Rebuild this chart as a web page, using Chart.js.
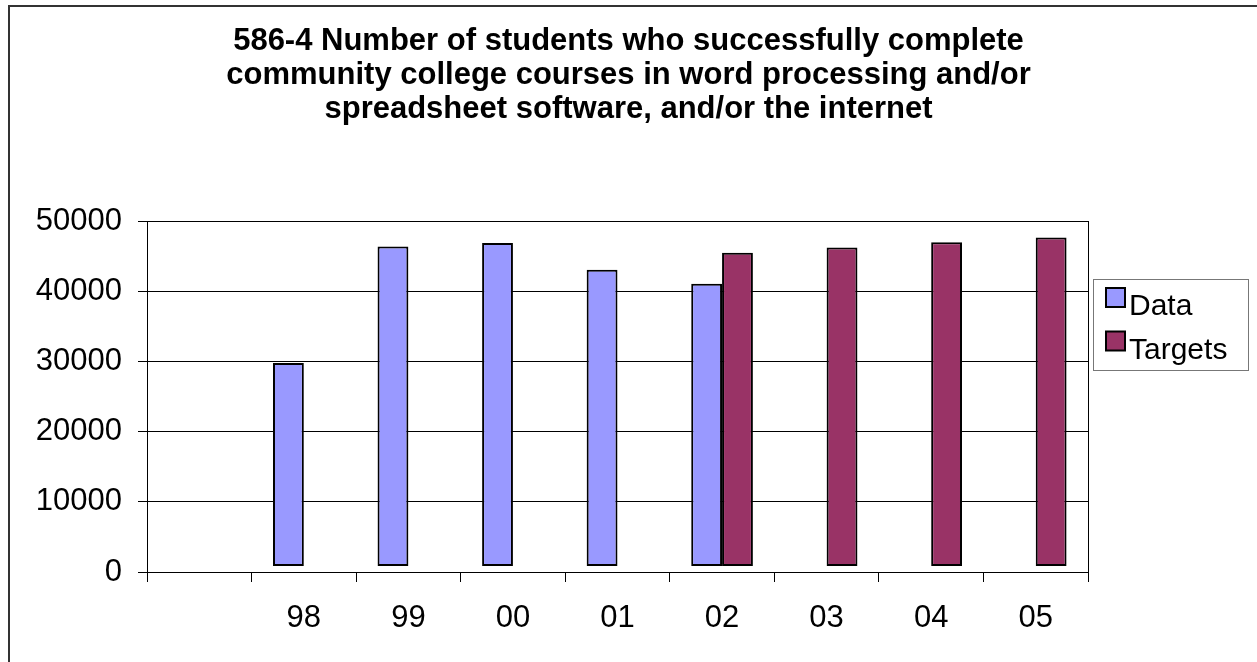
<!DOCTYPE html>
<html>
<head>
<meta charset="utf-8">
<script src="https://cdn.jsdelivr.net/npm/chart.js@4"></script>
<style>
  body { margin: 0; background: #fff; }
  #wrap { width: 1257px; height: 662px; }
</style>
</head>
<body>
<div id="wrap"><canvas id="chart"></canvas></div>
<script>
// categories (first slot is empty in the original)
const years = ["", "98", "99", "00", "01", "02", "03", "04", "05"];
// values
const dataValues = [null, 29800, 46400, 46900, 43100, 41100, null, null, null];
const targetValues = [null, null, null, null, null, 45500, 46250, 47000, 47700];
// y tick labels
const yTicks = [0, 10000, 20000, 30000, 40000, 50000];
const titleLines = [
  "586-4 Number of students who successfully complete",
  "community college courses in word processing and/or",
  "spreadsheet software, and/or the internet"
];

// set global font family / color
Chart.defaults.font.family = "'Liberation Sans', Arial, sans-serif";
Chart.defaults.color = "#000";

// outer frame of the chart (only left and top show in the original)
const framePlugin = {
  id: 'frame',
  beforeDraw(chart) {
    const ctx = chart.ctx;
    ctx.save();
    ctx.strokeStyle = '#333';
    ctx.lineWidth = 2;
    ctx.beginPath();
    ctx.moveTo(9, chart.height + 5);
    ctx.lineTo(9, 6);
    ctx.lineTo(chart.width + 5, 6);
    ctx.stroke();
    ctx.restore();
  }
};

// boxed legend on the right, like the excel one
const boxLegend = {
  id: 'boxLegend',
  afterDraw(chart) {
    const ctx = chart.ctx;
    const left = chart.chartArea.right + 5;
    const top = 279;
    ctx.save();
    ctx.strokeStyle = '#777';
    ctx.lineWidth = 1;
    ctx.strokeRect(left + 0.5, top + 0.5, 155, 91);
    ctx.font = "30px 'Liberation Sans', Arial, sans-serif";
    ctx.textBaseline = 'alphabetic';
    chart.data.datasets.forEach((ds, i) => {
      const y = top + 9 + i * 43.5;
      ctx.fillStyle = ds.backgroundColor;
      ctx.fillRect(left + 13, y, 19, 19);
      ctx.strokeStyle = '#000';
      ctx.lineWidth = 2;
      ctx.strokeRect(left + 13, y, 19, 19);
      ctx.fillStyle = '#000';
      ctx.fillText(ds.label, left + 36, y + 27);
    });
    ctx.restore();
  }
};

var ctx = document.getElementById('chart').getContext('2d');
new Chart(ctx, {
  type: 'bar',
  data: {
    labels: years,
    datasets: [{
      label: 'Data',
      data: dataValues,
      backgroundColor: '#9999FF',
      borderColor: '#000',
      borderWidth: 2,
      borderSkipped: false,
      base: 850
    }, {
      label: 'Targets',
      data: targetValues,
      backgroundColor: '#993366',
      borderColor: '#000',
      borderWidth: 2,
      borderSkipped: false,
      base: 850
    }]
  },
  options: {
    responsive: true,
    maintainAspectRatio: false,
    animation: false,
    categoryPercentage: 0.59,
    barPercentage: 1.0,
    layout: { padding: 0 },
    plugins: {
      legend: { display: false },
      tooltip: { enabled: false },
      title: {
        display: true,
        text: titleLines,
        color: '#000',
        font: { size: 31, weight: 'bold', lineHeight: 1.1 },
        padding: { top: 24, bottom: 95 }
      }
    },
    scales: {
      x: {
        grid: {
          offset: true,
          drawOnChartArea: false,
          tickLength: 10,
          color: '#000'
        },
        border: { color: '#000', width: 1 },
        ticks: { font: { size: 31 }, padding: 18, color: '#000' },
        afterFit(scale) { scale.height = 90; }
      },
      y: {
        min: 0,
        max: 50000,
        grid: { color: '#000', tickLength: 9 },
        border: { color: '#000', width: 1 },
        ticks: {
          font: { size: 31 },
          padding: 16,
          color: '#000',
          callback: v => String(v)
        },
        afterBuildTicks(scale) { scale.ticks = yTicks.map(v => ({ value: v })); },
        afterFit(scale) { scale.width = 147; }
      },
      // right edge of the plot box
      yRight: {
        position: 'right',
        min: 0,
        max: 50000,
        ticks: { display: false },
        grid: { drawOnChartArea: false, drawTicks: false },
        border: { color: '#000', width: 1 },
        afterFit(scale) { scale.width = 169; }
      }
    }
  },
  plugins: [framePlugin, boxLegend]
});
</script>
</body>
</html>
